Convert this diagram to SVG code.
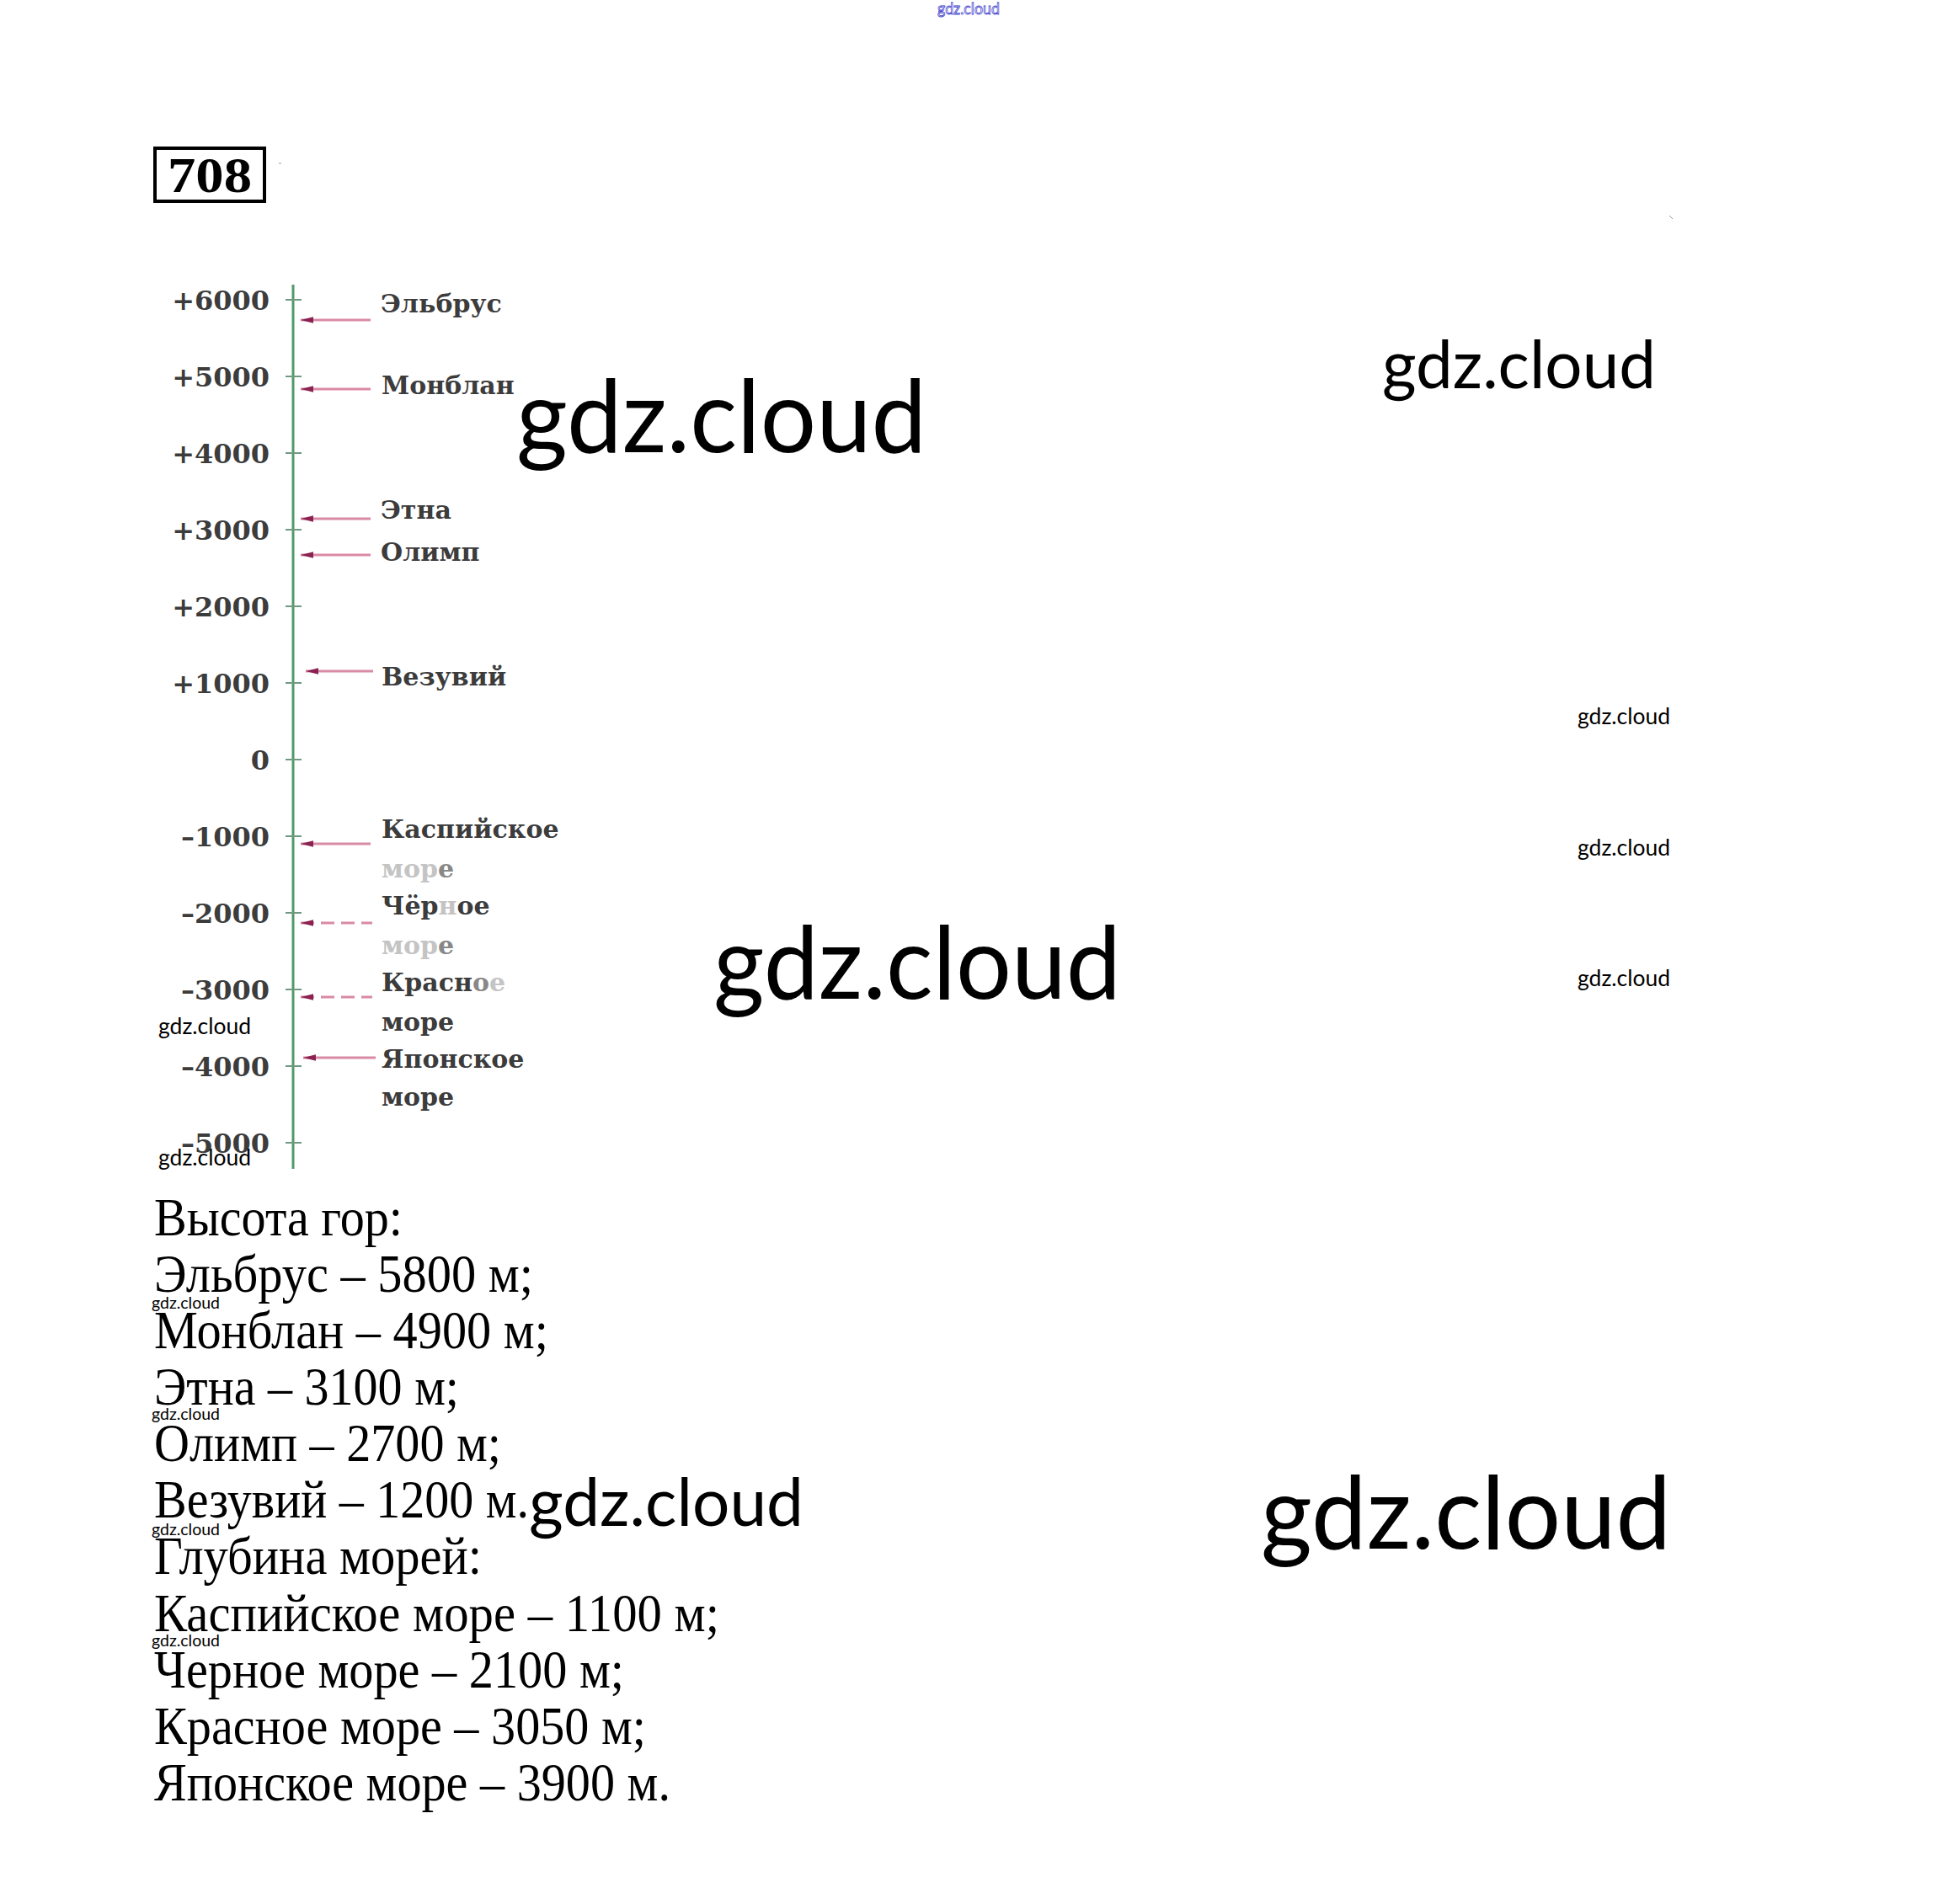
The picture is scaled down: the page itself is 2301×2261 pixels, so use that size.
<svg xmlns="http://www.w3.org/2000/svg" width="2301" height="2261" viewBox="0 0 2301 2261">
<style>
.num{font-family:"DejaVu Serif",serif;font-weight:bold;font-size:32px;fill:#3c3c3c;text-anchor:end}
.lbl{font-family:"DejaVu Serif",serif;font-weight:bold;font-size:30px;fill:#3c3c3c}
.fade{fill:#c4c4c4}
.mid{fill:#888}
.ans{font-family:"Liberation Serif",serif;font-size:64px;fill:#000}
.wm{font-family:Lato,"Open Sans",sans-serif;fill:#000}
.ptr{stroke:#d98aa6;stroke-width:3;fill:none}
.dash{stroke-dasharray:16 8}
.tick{stroke:#6f9a80;stroke-width:2}
</style>
<defs>
<marker id="ah" viewBox="0 0 10 6" refX="0" refY="3" markerWidth="6" markerHeight="3" orient="auto" markerUnits="strokeWidth">
<path d="M0,3 L10,0.5 L10,5.5 Z" fill="#8b2252"/>
</marker>
</defs>
<rect width="2301" height="2261" fill="#fff"/>
<g id="title">
<rect x="184" y="176" width="130" height="63" fill="none" stroke="#000" stroke-width="4"/>
<text x="249" y="228" font-family="Liberation Serif,serif" font-weight="bold" font-size="60" text-anchor="middle" textLength="100" lengthAdjust="spacingAndGlyphs">708</text>
<line x1="331" y1="194" x2="334" y2="194" stroke="#999" stroke-width="1"/>
<line x1="1982" y1="256" x2="1986" y2="260" stroke="#999" stroke-width="1"/>
</g>
<g id="axis">
<line x1="348" y1="338" x2="348" y2="1388" stroke="#4f9a6a" stroke-width="3"/>
<line class="tick" x1="339" y1="356" x2="358" y2="356"/>
<line class="tick" x1="339" y1="447" x2="358" y2="447"/>
<line class="tick" x1="339" y1="538" x2="358" y2="538"/>
<line class="tick" x1="339" y1="629" x2="358" y2="629"/>
<line class="tick" x1="339" y1="720" x2="358" y2="720"/>
<line class="tick" x1="339" y1="811" x2="358" y2="811"/>
<line class="tick" x1="339" y1="902" x2="358" y2="902"/>
<line class="tick" x1="339" y1="993" x2="358" y2="993"/>
<line class="tick" x1="339" y1="1084" x2="358" y2="1084"/>
<line class="tick" x1="339" y1="1175" x2="358" y2="1175"/>
<line class="tick" x1="339" y1="1266" x2="358" y2="1266"/>
<line class="tick" x1="339" y1="1357" x2="358" y2="1357"/>
<text class="num" x="320" y="368">+6000</text>
<text class="num" x="320" y="459">+5000</text>
<text class="num" x="320" y="550">+4000</text>
<text class="num" x="320" y="641">+3000</text>
<text class="num" x="320" y="732">+2000</text>
<text class="num" x="320" y="823">+1000</text>
<text class="num" x="320" y="914">0</text>
<text class="num" x="320" y="1005">–1000</text>
<text class="num" x="320" y="1096">–2000</text>
<text class="num" x="320" y="1187">–3000</text>
<text class="num" x="320" y="1278">–4000</text>
<text class="num" x="320" y="1369">–5000</text>
</g>
<g id="connectors">
<line class="ptr" x1="357" y1="380" x2="440" y2="380" marker-start="url(#ah)"/>
<line class="ptr" x1="357" y1="462" x2="440" y2="462" marker-start="url(#ah)"/>
<line class="ptr" x1="357" y1="616" x2="440" y2="616" marker-start="url(#ah)"/>
<line class="ptr" x1="357" y1="659" x2="440" y2="659" marker-start="url(#ah)"/>
<line class="ptr" x1="363" y1="797" x2="443" y2="797" marker-start="url(#ah)"/>
<line class="ptr" x1="357" y1="1002" x2="440" y2="1002" marker-start="url(#ah)"/>
<line class="ptr dash" x1="357" y1="1096" x2="442" y2="1096" marker-start="url(#ah)"/>
<line class="ptr dash" x1="357" y1="1184" x2="442" y2="1184" marker-start="url(#ah)"/>
<line class="ptr" x1="360" y1="1256" x2="446" y2="1256" marker-start="url(#ah)"/>
</g>
<g id="elbrus"><text class="lbl" x="452" y="371">Эльбрус</text></g>
<g id="monblan"><text class="lbl" x="453" y="468">Монблан</text></g>
<g id="etna"><text class="lbl" x="452" y="616">Этна</text></g>
<g id="olimp"><text class="lbl" x="452" y="666">Олимп</text></g>
<g id="vezuviy"><text class="lbl" x="453" y="814">Везувий</text></g>
<g id="kaspiyskoe"><text class="lbl" x="453" y="995">Каспийское</text><text class="lbl" x="453" y="1042"><tspan class="fade">мор</tspan><tspan class="mid">е</tspan></text></g>
<g id="chernoe"><text class="lbl" x="453" y="1086">Чёр<tspan class="fade">н</tspan>ое</text><text class="lbl" x="453" y="1133"><tspan class="fade">мор</tspan><tspan class="mid">е</tspan></text></g>
<g id="krasnoe"><text class="lbl" x="453" y="1177">Красн<tspan class="mid">о</tspan><tspan class="fade">е</tspan></text><text class="lbl" x="453" y="1224">море</text></g>
<g id="yaponskoe"><text class="lbl" x="453" y="1268">Японское</text><text class="lbl" x="453" y="1313">море</text></g>
<g id="answers">
<text class="ans" x="183" y="1467" textLength="295" lengthAdjust="spacingAndGlyphs">Высота гор:</text>
<text class="ans" x="183" y="1534" textLength="450" lengthAdjust="spacingAndGlyphs">Эльбрус – 5800 м;</text>
<text class="ans" x="183" y="1601" textLength="468" lengthAdjust="spacingAndGlyphs">Монблан – 4900 м;</text>
<text class="ans" x="183" y="1668" textLength="362" lengthAdjust="spacingAndGlyphs">Этна – 3100 м;</text>
<text class="ans" x="183" y="1735" textLength="412" lengthAdjust="spacingAndGlyphs">Олимп – 2700 м;</text>
<text class="ans" x="183" y="1802" textLength="445" lengthAdjust="spacingAndGlyphs">Везувий – 1200 м.</text>
<text class="ans" x="183" y="1869" textLength="389" lengthAdjust="spacingAndGlyphs">Глубина морей:</text>
<text class="ans" x="183" y="1937" textLength="671" lengthAdjust="spacingAndGlyphs">Каспийское море – 1100 м;</text>
<text class="ans" x="183" y="2004" textLength="558" lengthAdjust="spacingAndGlyphs">Черное море – 2100 м;</text>
<text class="ans" x="183" y="2071" textLength="584" lengthAdjust="spacingAndGlyphs">Красное море – 3050 м;</text>
<text class="ans" x="183" y="2138" textLength="613" lengthAdjust="spacingAndGlyphs">Японское море – 3900 м.</text>
</g>
<g id="watermarks">
<text x="1113" y="17" font-family="Lato,sans-serif" font-size="20" fill="#fff" stroke="#3a3acc" stroke-width="0.8" textLength="74" lengthAdjust="spacingAndGlyphs">gdz.cloud</text>
<text class="wm" x="613" y="537" font-size="120" textLength="487" lengthAdjust="spacingAndGlyphs">gdz.cloud</text>
<text class="wm" x="1641" y="461" font-size="80" textLength="325" lengthAdjust="spacingAndGlyphs">gdz.cloud</text>
<text class="wm" x="1873" y="860" font-size="27" textLength="110" lengthAdjust="spacingAndGlyphs">gdz.cloud</text>
<text class="wm" x="1873" y="1016" font-size="27" textLength="110" lengthAdjust="spacingAndGlyphs">gdz.cloud</text>
<text class="wm" x="1873" y="1171" font-size="27" textLength="110" lengthAdjust="spacingAndGlyphs">gdz.cloud</text>
<text class="wm" x="847" y="1186" font-size="120" textLength="484" lengthAdjust="spacingAndGlyphs">gdz.cloud</text>
<text class="wm" x="188" y="1228" font-size="27" textLength="110" lengthAdjust="spacingAndGlyphs">gdz.cloud</text>
<text class="wm" x="188" y="1384" font-size="27" textLength="110" lengthAdjust="spacingAndGlyphs">gdz.cloud</text>
<text class="wm" x="180" y="1554" font-size="20" textLength="81" lengthAdjust="spacingAndGlyphs">gdz.cloud</text>
<text class="wm" x="180" y="1686" font-size="20" textLength="81" lengthAdjust="spacingAndGlyphs">gdz.cloud</text>
<text class="wm" x="180" y="1823" font-size="20" textLength="81" lengthAdjust="spacingAndGlyphs">gdz.cloud</text>
<text class="wm" x="180" y="1955" font-size="20" textLength="81" lengthAdjust="spacingAndGlyphs">gdz.cloud</text>
<text class="wm" x="628" y="1812" font-size="80" textLength="326" lengthAdjust="spacingAndGlyphs">gdz.cloud</text>
<text class="wm" x="1497" y="1839" font-size="120" textLength="487" lengthAdjust="spacingAndGlyphs">gdz.cloud</text>
</g>
</svg>
